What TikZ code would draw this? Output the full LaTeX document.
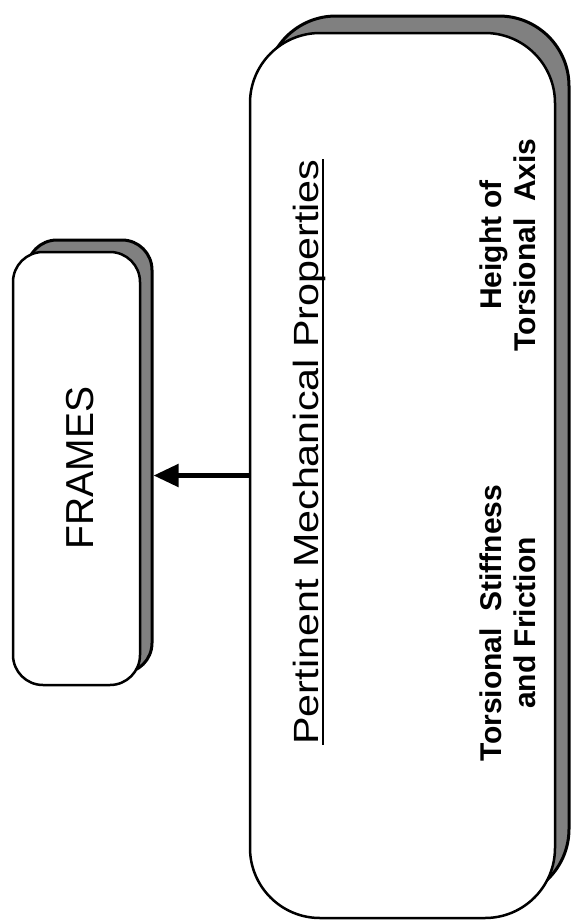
\documentclass[tikz,border=0pt]{standalone}
\usepackage{fontspec}
\setmainfont{Liberation Sans}
\newfontfamily\stretchedfont[FakeStretch=1.18]{Liberation Sans}
\usetikzlibrary{arrows.meta}
\begin{document}
\begin{tikzpicture}[x=1pt,y=-1pt,
  frontbox/.style={draw=black, line width=2.5pt, fill=white, rounded corners=#1, inner sep=0pt},
  shadowbox/.style={draw=black, line width=3pt, fill=black!50, rounded corners=#1, inner sep=0pt},
  vtext/.style={rotate=90, inner sep=0pt, anchor=base},
  arr/.style={line width=5pt, -{Triangle[length=25pt,width=22pt]}}
]
\useasboundingbox (0,0) rectangle (571,921);
% FRAMES box
\node[shadowbox=30pt, minimum width=125pt, minimum height=433pt] (framesh) at (89.5,456.5) {};
\node[frontbox=30pt, minimum width=127pt, minimum height=433pt] (frames) at (76.5,468.5) {};
\node[vtext, font=\fontsize{39}{44}\selectfont] (framestxt) at (93,468) {FRAMES};
% big box
\node[shadowbox=70pt, minimum width=303pt, minimum height=883pt] (bigsh) at (417.5,457.5) {};
\node[frontbox=70pt, minimum width=305pt, minimum height=885pt] (big) at (402.5,475.5) {};
\node[vtext, font=\stretchedfont\fontsize{35}{40}\selectfont] (pmp) at (318,452) {Pertinent Mechanical Properties};
\draw[line width=1.6pt] ([xshift=5pt]pmp.base west) -- ([xshift=5pt]pmp.base east);
\node[vtext, align=center, font=\bfseries\fontsize{30}{34}\selectfont] (tsf) at (535,623) {Torsional\ \ Stiffness\\and Friction};
\node[vtext, align=center, font=\bfseries\fontsize{30}{34}\selectfont] (hta) at (535,245) {Height of\\Torsional\ \ Axis};
% arrow
\draw[arr] (big.west) -- (framesh.east |- big.west);
\end{tikzpicture}
\end{document}
